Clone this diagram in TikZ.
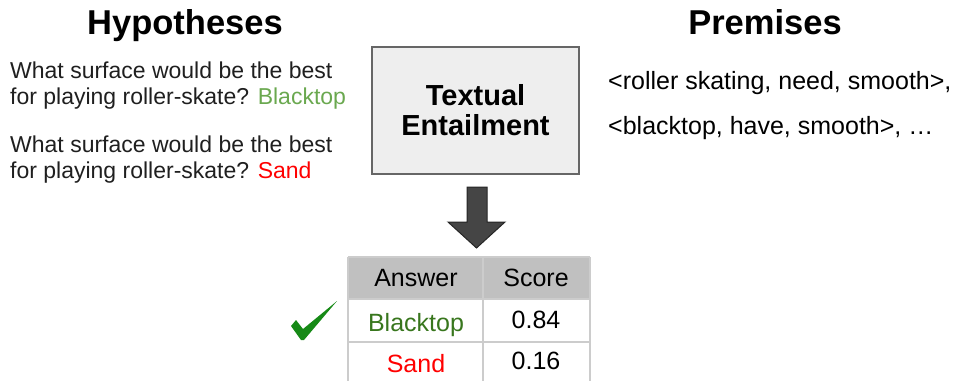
\documentclass[tikz,border=0pt]{standalone}
\usepackage{fontspec}
\setmainfont{Liberation Sans}
\usepackage{tikz}
\usetikzlibrary{calc, positioning, shapes.geometric}
\definecolor{lightgreen}{HTML}{6AA84F}
\definecolor{darkgreen}{HTML}{38761D}
\definecolor{checkgreen}{HTML}{168A16}
\definecolor{gridgray}{HTML}{CCCCCC}
\definecolor{headgray}{HTML}{C0C0C0}
\definecolor{boxgray}{HTML}{EEEEEE}
\tikzset{
    title/.style ={anchor=base, inner sep=0pt, font=\fontsize{34.5}{38}\selectfont\bfseries},
    hyp/.style = {anchor=base west, inner sep=0pt, text=black!88, font=\fontsize{23}{26}\selectfont},
    prem/.style = {anchor=base west, inner sep=0pt, font=\fontsize{25}{28}\selectfont},
    cell/.style = {anchor=base, inner sep=0pt, font=\fontsize{25}{28}\selectfont},
    model/.style ={rectangle, draw=black!60, fill=boxgray, line width=1.5pt,
                   minimum width=207pt, minimum height=127pt, align=center,
                   font=\fontsize{29}{30}\selectfont\bfseries}
    }

\begin{document}
\begin{tikzpicture}[
      x=1pt, y=-1pt, % pixel units, y down
      grid/.style = {draw=gridgray, line width=1.5pt}
    ]
    \useasboundingbox (0,0) rectangle (959,381);

    \node[title] (hyps) at (185,34) {Hypotheses};
    \node[title] (prems) at (765,34) {Premises};

    \node[hyp] (h1a) at (10,78) {What surface would be the best};
    \node[hyp] (h1b) at (10,104) {for playing roller-skate? \textcolor{lightgreen}{Blacktop}};
    \node[hyp] (h2a) at (10,152) {What surface would be the best};
    \node[hyp] (h2b) at (10,178) {for playing roller-skate? \textcolor{red}{Sand}};

    \node[prem] (p1) at (608,89) {<roller skating, need, smooth>,};
    \node[prem] (p2) at (608,134) {<blacktop, have, smooth>, \dots};

    \node[model] (te) at (475.5,110.5) {Textual\\Entailment};

    % block arrow down to the table
    \draw[fill=black!73, draw=black!85, line width=1pt]
        (467,187) -- (487,187) -- (487,222) -- (505,222) -- (476.5,248)
        -- (448,222) -- (467,222) -- cycle;

    % table
    \fill[headgray] (348,257) rectangle (590,299);
    \draw[grid] (348,257) -- (590,257);
    \draw[grid] (348,299) -- (590,299);
    \draw[grid] (348,342) -- (590,342);
    \foreach \x in {348,483,590}
        \draw[grid] (\x,257) -- (\x,381);

    \node[cell] (ans) at (416,286) {Answer};
    \node[cell] (sc) at (536,286) {Score};
    \node[cell, text=darkgreen] (a1) at (416,331) {Blacktop};
    \node[cell] (s1) at (536,328) {0.84};
    \node[cell, text=red] (a2) at (416,372) {Sand};
    \node[cell] (s2) at (536,369) {0.16};

    % check mark
    \fill[checkgreen] (291,326) -- (296,320) -- (303,329) -- (337,301)
        -- (304,340) -- (301,340) -- cycle;
\end{tikzpicture}
\end{document}
